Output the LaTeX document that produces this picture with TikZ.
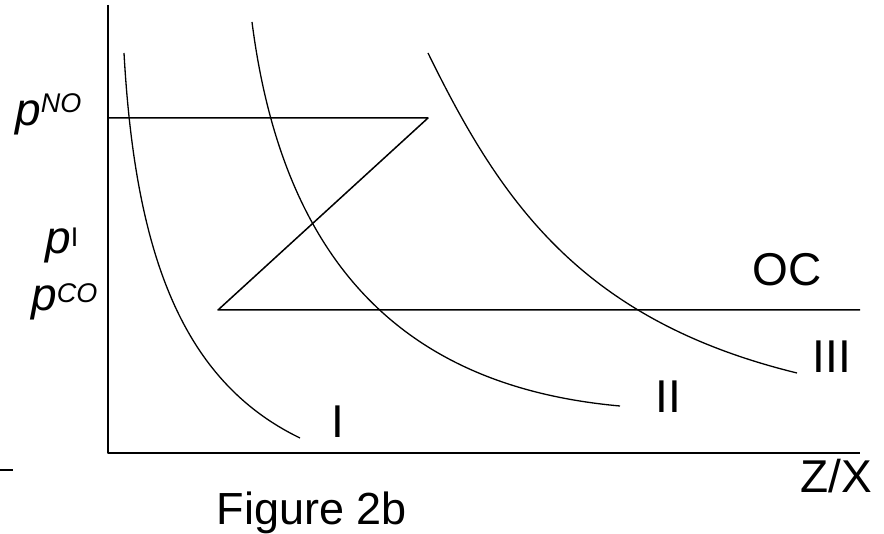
\documentclass[tikz,border=0pt]{standalone}
\usepackage{fontspec}
\setmainfont{Liberation Sans}
\usetikzlibrary{calc}
\newcommand{\lbl}{\fontsize{46}{46}\selectfont}
\newcommand{\pris}[2]{{\fontsize{46}{46}\selectfont\itshape p}\raisebox{#2pt}{\fontsize{27}{27}\selectfont#1}}

\begin{document}
\begin{tikzpicture}[x=1pt,y=-1pt,line join=round,
  akse/.style={line width=2pt},
  kurve/.style={line width=1.3pt},
  linje/.style={line width=1.5pt}]
  \useasboundingbox (0,0) rectangle (884,534);

  % Koordinatsystem
  \coordinate (O) at (108,453);
  \coordinate (Ytop) at (108,5);
  \coordinate (Xend) at (860,453);
  \draw[akse] (Ytop) -- (O) -- (Xend);
  \coordinate (Sa) at (0,470);
  \coordinate (Sb) at (13,470);
  \draw[akse] (Sa) -- (Sb);

  % Priser: NO-linje, skraa linje og OC-linje
  \coordinate (NOa) at (108,118);
  \coordinate (NOb) at (428,118);
  \coordinate (COa) at (218,310);
  \coordinate (COb) at (860,310);
  \draw[linje] (NOa) -- (NOb) -- (COa) -- (COb);

  % Kurver I, II og III
  \coordinate (Ia) at (124,53);    \coordinate (Ib) at (300,438);
  \coordinate (IIa) at (252,22);   \coordinate (IIb) at (620,406);
  \coordinate (IIIa) at (428,53);  \coordinate (IIIb) at (797,373);
  \draw[kurve] (Ia) .. controls (135,250) and (180,380) .. (Ib);
  \draw[kurve] (IIa) .. controls (285,280) and (420,388) .. (IIb);
  \draw[kurve] (IIIa) .. controls (500,200) and (580,320) .. (IIIb);

  % Tekst
  \node[anchor=base,inner sep=0pt] (lI) at (338,438) {\lbl I};
  \node[anchor=base,inner sep=0pt] (lII) at (668,413) {\lbl II};
  \node[anchor=base,inner sep=0pt] (lIII) at (832,373) {\lbl III};
  \node[anchor=base,inner sep=0pt] (lOC) at (787,286) {\lbl OC};
  \node[anchor=base,inner sep=0pt] (lZX) at (836,493) {\lbl Z/X};
  \node[anchor=base,inner sep=0pt] (fig) at (312,525) {\fontsize{45}{45}\selectfont Figure 2b};

  % Prisnavne
  \node[anchor=base west,inner sep=0pt] (pNO) at (15,126) {\pris{\itshape NO}{13}};
  \node[anchor=base west,inner sep=0pt] (pI) at (45,254) {\pris{I}{7}};
  \node[anchor=base west,inner sep=0pt] (pCO) at (31,311) {\pris{\itshape CO}{8}};
\end{tikzpicture}
\end{document}
